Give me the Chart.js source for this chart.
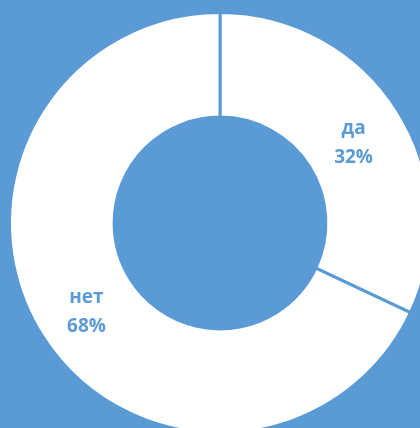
<!DOCTYPE html>
<html>
<head>
<meta charset="utf-8">
<script src="https://cdn.jsdelivr.net/npm/chart.js@4"></script>
<style>
  html, body { margin: 0; padding: 0; background: #5B9BD5; overflow: hidden; }
  body { width: 420px; height: 428px; position: relative; }
  #wrap { position: absolute; left: 0; top: 1px; width: 440px; height: 444px; }
</style>
</head>
<body>
<div id="wrap"><canvas id="chart"></canvas></div>
<script>
// chart data
const labels = ['да', 'нет'];
const values = [32, 68];

const BLUE = '#5B9BD5';

// draw category + percent inside each slice
const sliceLabels = {
    id: 'sliceLabels',
    afterDatasetsDraw: function (chart) {
        const ctx = chart.ctx;
        const meta = chart.getDatasetMeta(0);
        const total = values.reduce(function (a, b) { return a + b; }, 0);
        ctx.save();
        ctx.fillStyle = BLUE;
        ctx.font = 'bold 19px "Open Sans"';
        ctx.textAlign = 'center';
        ctx.textBaseline = 'middle';
        meta.data.forEach(function (arc, i) {
            const p = arc.tooltipPosition();
            const pct = Math.round(values[i] / total * 100) + '%';
            ctx.fillText(labels[i], p.x, p.y - 10);
            ctx.fillText(pct, p.x, p.y + 19);
        });
        ctx.restore();
    }
};

new Chart(document.getElementById('chart').getContext('2d'), {
    type: 'doughnut',
    data: {
        labels: labels,
        datasets: [{
            data: values,
            backgroundColor: ['#FFFFFF', '#FFFFFF'],
            borderColor: BLUE,
            borderWidth: 3
        }]
    },
    options: {
        responsive: true,
        maintainAspectRatio: false,
        devicePixelRatio: 1,
        animation: false,
        cutout: '50.3%',
        layout: { padding: 8 },
        plugins: {
            legend: { display: false },
            tooltip: { enabled: false }
        }
    },
    plugins: [sliceLabels]
});
</script>
</body>
</html>
